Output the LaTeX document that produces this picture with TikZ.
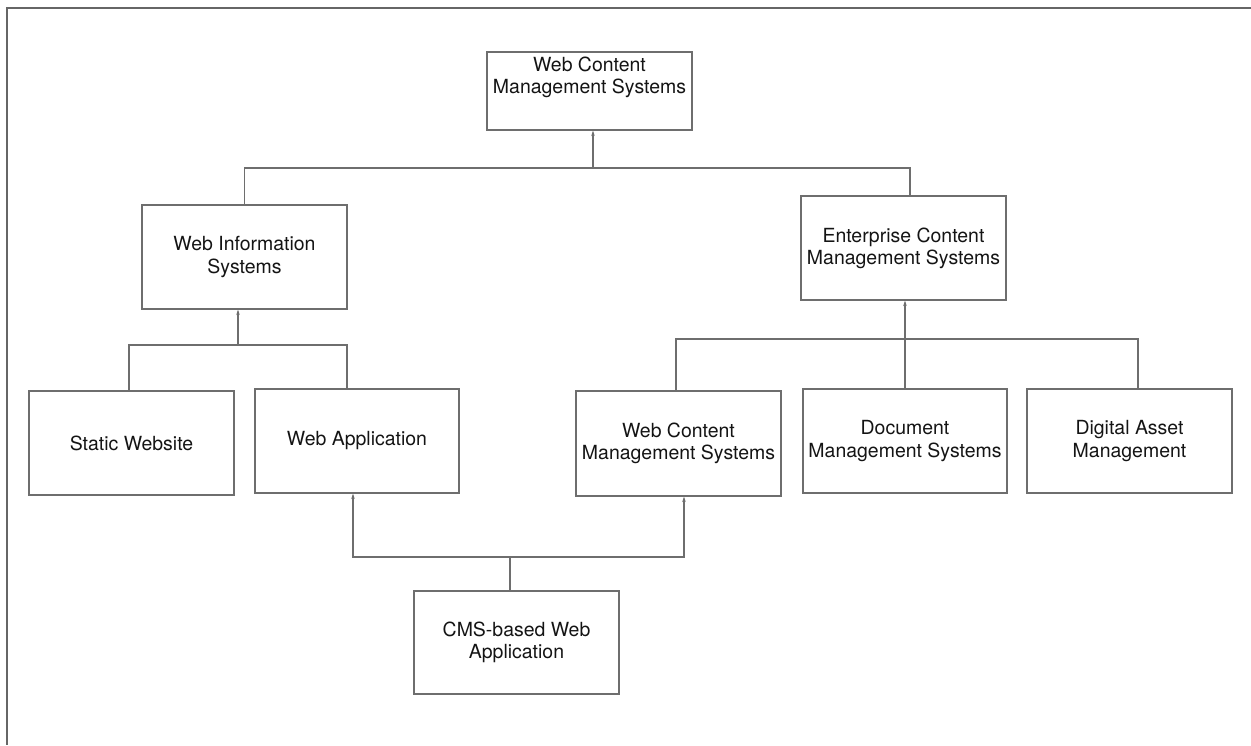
\documentclass[tikz,border=0pt]{standalone}
\usepackage{fontspec}
\setmainfont{TeX Gyre Heros}
\usetikzlibrary{arrows.meta,calc}
\definecolor{edge}{HTML}{6E6E6E}
\definecolor{frame}{HTML}{666666}
\definecolor{ink}{HTML}{141414}
\begin{document}
\begin{tikzpicture}[x=0.75pt,y=-0.75pt,
  box/.style={draw=edge,line width=0.9pt,rectangle,inner sep=0pt,
    minimum width=205*0.75pt,minimum height=104*0.75pt,
    align=center,text=ink,font=\fontsize{14.6}{16.6}\selectfont},
  txt/.style={inner sep=0pt,align=center,text=ink,font=\fontsize{14.6}{16.6}\selectfont},
  wire/.style={draw=edge,line width=0.9pt},
  arr/.style={wire,-{Stealth[length=4pt,width=2.6pt]}}]
\useasboundingbox (0,0) rectangle (1251,745);
% page frame (top and left edges)
\draw[frame,line width=1.5pt] (1251,8) -- (7,8) -- (7,745);

% boxes
\node[box,minimum height=78*0.75pt] (top) at (589.5,91) {};
\node[txt] (toplabel) at (589.5,77.5) {Web Content\\Management Systems};
\node[box] (wis)  at (244.5,257) {Web Information\\Systems};
\node[box] (ecms) at (903.5,248) {Enterprise Content\\Management Systems};
\node[box] (stat) at (131.5,443) {Static Website};
\node[box,minimum width=204*0.75pt] (wapp) at (357,441) {Web Application};
\node[box,minimum height=105*0.75pt] (wcms) at (678.5,443.5) {Web Content\\Management Systems};
\node[box,minimum width=204*0.75pt] (dms)  at (905,441) {Document\\Management Systems};
\node[box] (dam)  at (1129.5,441) {Digital Asset\\Management};
\node[box,minimum height=103*0.75pt] (cms)  at (516.5,642.5) {CMS-based Web\\Application};

% junction points of the tree connectors
\coordinate (j1) at (593,168);
\coordinate (j2) at (238,345);
\coordinate (j3) at (904,339);
\coordinate (j4) at (510,557);

% WIS and ECMS -> WCMS
\draw[wire] (wis.north) |- (j1);
\draw[wire] ([xshift=6.5*0.75pt]ecms.north) |- (j1);
\draw[arr] (j1) -- (j1 |- top.south);

% Static Website and Web Application -> WIS
\draw[wire] ([xshift=-2.5*0.75pt]stat.north) |- (j2);
\draw[wire] ([xshift=-10*0.75pt]wapp.north) |- (j2);
\draw[arr] (j2) -- (j2 |- wis.south);

% WCMS, DMS and DAM -> ECMS
\draw[wire] ([xshift=-2.5*0.75pt]wcms.north) |- (j3);
\draw[wire] ([xshift=8.5*0.75pt]dam.north) |- (j3);
\draw[arr] (dms.north) -- (dms.north |- ecms.south);

% CMS-based Web Application -> Web Application and WCMS
\draw[wire] ([xshift=-6.5*0.75pt]cms.north) -- (j4);
\coordinate (a1) at ([xshift=-4*0.75pt]wapp.south);
\coordinate (a2) at ([xshift=5.5*0.75pt]wcms.south);
\draw[arr] (j4) -| (a1);
\draw[arr] (j4) -| (a2);
\end{tikzpicture}
\end{document}
